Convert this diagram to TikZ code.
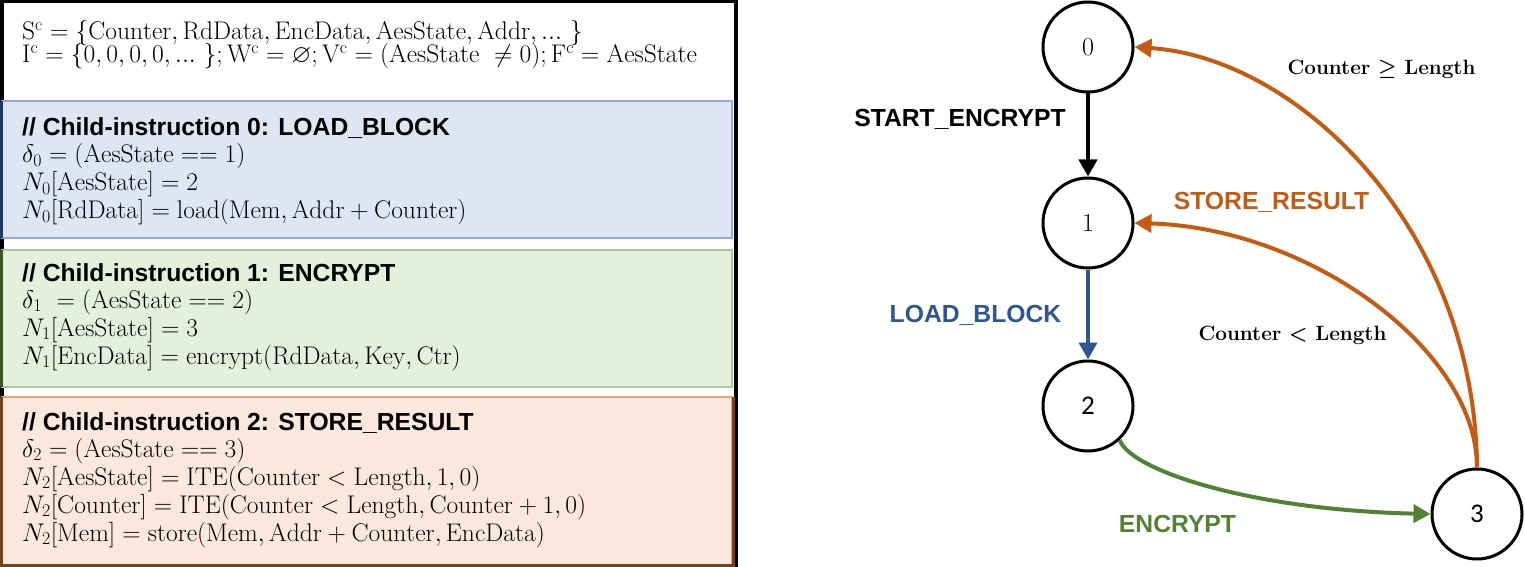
\RequirePackage{fix-cm}
\documentclass[tikz,border=0pt]{standalone}
\usepackage{amssymb}
\usepackage{fontspec}
\usetikzlibrary{arrows.meta}
\newfontfamily\lsans{Liberation Sans}
\newfontfamily\carl{Carlito}
\definecolor{cblue}{HTML}{2F5597}
\definecolor{cgreen}{HTML}{548235}
\definecolor{corange}{HTML}{C55A11}
\definecolor{bfill}{HTML}{DFE6F3}
\definecolor{bline}{HTML}{8FAADC}
\definecolor{bdark}{HTML}{1F3864}
\definecolor{gfill}{HTML}{E4F0DC}
\definecolor{gline}{HTML}{A9C89A}
\definecolor{gdark}{HTML}{385723}
\definecolor{ofill}{HTML}{FBE8DD}
\definecolor{oline}{HTML}{E3A27E}
\definecolor{odark}{HTML}{7B3F12}
\tikzset{
  hdr/.style={anchor=base west, inner sep=0pt, font=\lsans\bfseries\fontsize{24.7bp}{28bp}\selectfont},
  mline/.style={anchor=base west, inner sep=0pt, font=\fontsize{25.6}{30}\selectfont},
  state/.style={circle, draw, line width=3bp, minimum size=90bp, inner sep=0pt},
  edge/.style={line width=4bp, -{Triangle[length=17bp,width=18bp]}},
  lbl/.style={anchor=base, inner sep=0pt, font=\lsans\bfseries\fontsize{24.7bp}{28bp}\selectfont},
  cond/.style={anchor=base, inner sep=0pt, font=\huge\bfseries\boldmath},
}
\begin{document}
\begin{tikzpicture}[x=1bp, y=-1bp]
\useasboundingbox (0,0) rectangle (1525,567);
\fill[white] (0,0) rectangle (1525,567);
% outer frame
\draw[line width=3.5bp] (1.75,567) -- (1.75,1.75) -- (736,1.75) -- (736,567);
% boxes
\draw[fill=bfill, draw=bline, line width=2.5bp] (2,101) rectangle (732,238);
\draw[bdark, line width=3bp] (1.5,101) -- (1.5,238);
\draw[fill=gfill, draw=gline, line width=2.5bp] (2,250) rectangle (732,387);
\draw[gdark, line width=3bp] (1.5,250) -- (1.5,387);
\draw[fill=ofill, draw=oline, line width=2.5bp] (2,397) rectangle (732,565);
\draw[odark, line width=3bp] (1.5,397) -- (1.5,565) -- (733,565) -- (733,397);
% top text
\node[mline] (s) at (22,40) {$\mathrm{S}^{\mathrm{c}} = \{\mathrm{Counter}, \mathrm{RdData}, \mathrm{EncData}, \mathrm{AesState}, \mathrm{Addr}, ...\ \}$};
\node[mline] (i) at (22,63) {$\mathrm{I}^{\mathrm{c}} = \{0, 0, 0, 0, ...\ \}; \mathrm{W}^{\mathrm{c}} = \varnothing; \mathrm{V}^{\mathrm{c}} = (\mathrm{AesState}\ \neq 0); \mathrm{F}^{\mathrm{c}} = \mathrm{AesState}$};
% blue box
\node[hdr] (h0) at (22,136) {// Child-instruction 0: LOAD\_BLOCK};
\node[mline] (a0) at (22,163) {$\delta_0 = (\mathrm{AesState} == 1)$};
\node[mline] (a1) at (22,191) {$N_0[\mathrm{AesState}] = 2$};
\node[mline] (a2) at (22,219) {$N_0[\mathrm{RdData}] = \mathrm{load}(\mathrm{Mem}, \mathrm{Addr} + \mathrm{Counter})$};
% green box
\node[hdr] (h1) at (22,281) {// Child-instruction 1: ENCRYPT};
\node[mline] (b0) at (22,308) {$\delta_1\ = (\mathrm{AesState} == 2)$};
\node[mline] (b1) at (22,336) {$N_1[\mathrm{AesState}] = 3$};
\node[mline] (b2) at (22,364) {$N_1[\mathrm{EncData}] = \mathrm{encrypt}(\mathrm{RdData}, \mathrm{Key}, \mathrm{Ctr})$};
% orange box
\node[hdr] (h2) at (22,430) {// Child-instruction 2: STORE\_RESULT};
\node[mline] (c0) at (22,457) {$\delta_2 = (\mathrm{AesState} == 3)$};
\node[mline] (c1) at (22,485) {$N_2[\mathrm{AesState}] = \mathrm{ITE}(\mathrm{Counter} < \mathrm{Length}, 1, 0)$};
\node[mline] (c2) at (22,513) {$N_2[\mathrm{Counter}] = \mathrm{ITE}(\mathrm{Counter} < \mathrm{Length}, \mathrm{Counter} + 1, 0)$};
\node[mline] (c3) at (22,541) {$N_2[\mathrm{Mem}] = \mathrm{store}(\mathrm{Mem}, \mathrm{Addr} + \mathrm{Counter}, \mathrm{EncData})$};
% state graph
\node[state, font=\fontsize{26bp}{30bp}\selectfont] (n0) at (1088,47) {0};
\node[state, font=\fontsize{26bp}{30bp}\selectfont] (n1) at (1088,223) {1};
\node[state, font=\carl\fontsize{27bp}{30bp}\selectfont] (n2) at (1088,406) {2};
\node[state, font=\carl\fontsize{27bp}{30bp}\selectfont] (n3) at (1477,514) {3};
\draw[edge] (n0) -- (n1);
\draw[edge, cblue] (n1) -- (n2);
\draw[edge, cgreen] (n2.-47) .. controls (1130,470) and (1250,510) .. (n3.west);
\draw[edge, corange] (n3.north) .. controls (1477,350) and (1310,228) .. (n1.east);
\draw[edge, corange] (n3.north) .. controls (1475,230) and (1300,58) .. (n0.east);
% labels
\node[lbl] (l01) at (960,127) {START\_ENCRYPT};
\node[lbl, text=cblue] (l12) at (975.5,322) {LOAD\_BLOCK};
\node[lbl, text=corange] (l31) at (1271.5,210) {STORE\_RESULT};
\node[lbl, text=cgreen] (l23) at (1177.5,532) {ENCRYPT};
\node[cond] (k0) at (1381.5,74.5) {Counter $\geq$ Length};
\node[cond] (k1) at (1292.5,340.5) {Counter $<$ Length};
\end{tikzpicture}
\end{document}
